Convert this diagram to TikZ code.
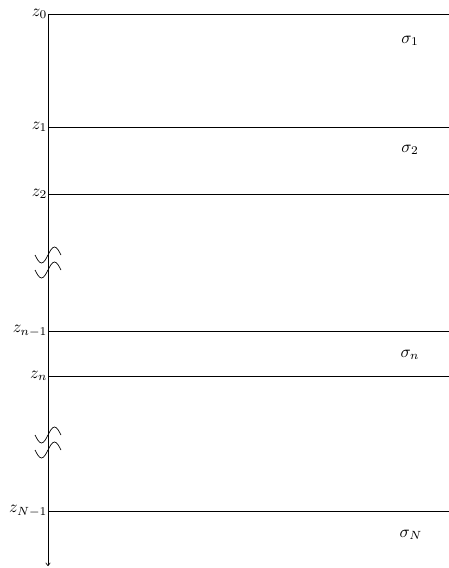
\documentclass[tikz,border=0pt]{standalone}
\usetikzlibrary{arrows.meta}
\begin{document}
\begin{tikzpicture}[x=0.59pt,y=-0.59pt,
  layer/.style={line width=0.4pt},
  zlab/.style={anchor=east,inner sep=0.2pt},
  slab/.style={inner sep=0pt},
  wave/.style={line width=0.4pt}]
\useasboundingbox (0,0) rectangle (449,568);
% axis
\coordinate (top) at (48,14);
\coordinate (bot) at (48,566);
\draw[-{To[length=2pt,width=3pt]},line width=0.4pt] (top) -- (bot);
% interfaces
\foreach \y/\lab/\nm in {14/z_0/a,127/z_1/b,194/z_2/c,331/z_{n-1}/d,376/z_n/e,511/z_{N-1}/f}{
  \coordinate (L\nm) at (48,\y);
  \coordinate (R\nm) at (449,\y);
  \draw[layer] (L\nm) -- (R\nm);
  \node[zlab] at (L\nm) {$\lab$};
}
% layer labels
\node[slab] (s1) at (410,41) {$\sigma_1$};
\node[slab] (s2) at (410,150) {$\sigma_2$};
\node[slab] (sn) at (410,355) {$\sigma_n$};
\node[slab] (sN) at (411,535) {$\sigma_N$};
% break marks
\foreach \m in {255,270,435,450}{
  \draw[wave] (35,\m) sin (41.5,\m+8) cos (48,\m) sin (54.5,\m-8) cos (61,\m);
}
\end{tikzpicture}
\end{document}
